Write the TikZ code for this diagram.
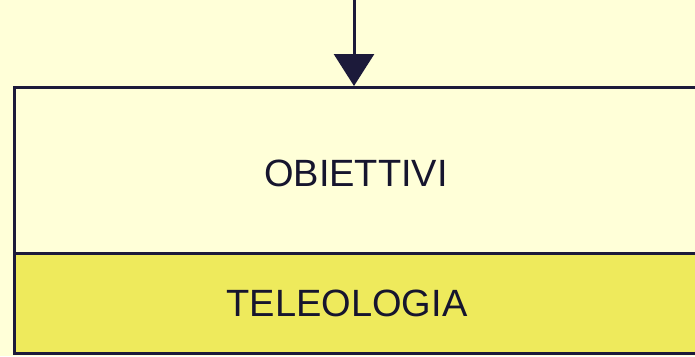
\documentclass[tikz,border=0pt]{standalone}
\usepackage{fontspec}
\setmainfont{Liberation Sans}
\usetikzlibrary{positioning,arrows.meta}
\definecolor{cream}{RGB}{255,255,216}
\definecolor{lemon}{RGB}{238,234,92}
\definecolor{ink}{RGB}{28,26,58}
\tikzset{
  panel/.style={draw=ink,line width=3pt,rectangle,inner sep=0pt,anchor=north west,minimum width=700pt},
  lab/.style={font=\fontsize{38}{40}\selectfont,text=ink!80!black,inner sep=0pt},
  flow/.style={draw=ink,line width=3pt,-{Triangle[length=32pt,width=40pt]}}
}
\begin{document}
\begin{tikzpicture}[x=1pt,y=-1pt]
  \useasboundingbox[fill=cream] (0,0) rectangle (695,356);
  \node[panel,fill=cream,minimum height=166pt] (obj) at (13,86) {};
  \node[panel,fill=lemon,minimum height=100pt] (tel) at (13,252) {};
  \coordinate (in) at (354,-5);
  \draw[flow] (in) -- (in |- obj.north);
  \node[lab] (objlab) at (356,173) {OBIETTIVI};
  \node[lab] (tellab) at (347,303) {TELEOLOGIA};
\end{tikzpicture}
\end{document}
